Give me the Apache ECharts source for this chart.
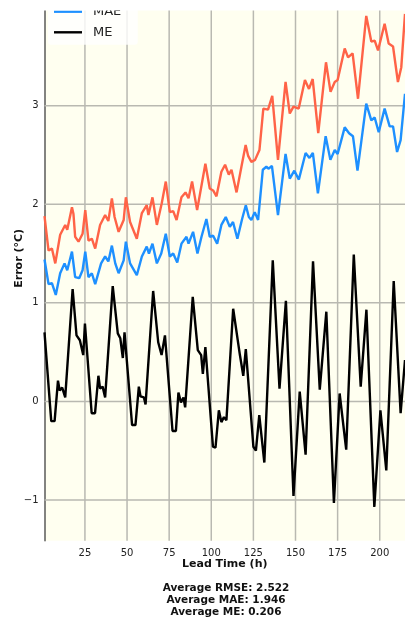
<!DOCTYPE html>
<html>
<head>
<meta charset="utf-8">
<script src="https://cdn.jsdelivr.net/npm/echarts@6/dist/echarts.min.js"></script>
<style>
  html, body { margin: 0; padding: 0; background: #fff; }
  #chart { width: 405px; height: 621px; }
</style>
</head>
<body>
<div id="chart"></div>
<script>
// lead time ticks and error ticks
const xTicks = [25, 50, 75, 100, 125, 150, 175, 200]
const yTicks = [-1, 0, 1, 2, 3]
const xRange = [1, 215]
const yRange = [-1.413, 4.315]

// RMSE
const rmseHours = [1, 3.4, 5.4, 7.4, 10.3, 13.3, 14.5, 17.3, 18.2, 19.2, 21.2, 23.6, 25.2, 27.1, 29.1, 31.1, 34, 37, 38.9, 41, 42.6, 45, 48, 49.3, 51.8, 55.8, 58.8, 61.7, 62.7, 65.1, 67.7, 70.6, 73, 75.4, 77.4, 79.4, 82.3, 84.7, 86.5, 88.6, 91.6, 94.2, 96.5, 99.1, 101.1, 103.1, 106, 108.2, 110.4, 112, 115, 117.9, 120.4, 121.9, 123.8, 126, 128.6, 130.9, 133.7, 136.2, 139.6, 144.1, 146.6, 148.8, 151.9, 155.6, 158, 160.2, 163.5, 168.1, 170.8, 173.3, 175, 179.2, 181.2, 183.9, 187.1, 192, 195, 197, 199, 202.9, 205.3, 207.9, 210.8, 212.8, 215]
const rmseValues = [1.88, 1.53, 1.55, 1.40, 1.69, 1.79, 1.74, 1.97, 1.90, 1.67, 1.62, 1.70, 1.94, 1.63, 1.65, 1.55, 1.79, 1.89, 1.83, 2.06, 1.87, 1.72, 1.84, 2.07, 1.82, 1.65, 1.91, 1.99, 1.89, 2.07, 1.79, 2.01, 2.23, 1.92, 1.93, 1.84, 2.07, 2.12, 2.06, 2.23, 1.94, 2.19, 2.41, 2.16, 2.14, 2.08, 2.33, 2.40, 2.30, 2.35, 2.12, 2.38, 2.60, 2.49, 2.43, 2.45, 2.55, 2.97, 2.96, 3.10, 2.45, 3.24, 2.92, 2.99, 2.97, 3.26, 3.17, 3.27, 2.72, 3.44, 3.14, 3.24, 3.26, 3.58, 3.49, 3.53, 3.07, 3.91, 3.65, 3.66, 3.56, 3.83, 3.63, 3.60, 3.24, 3.39, 3.93]

// MAE
const maeHours = [1, 3.4, 5.4, 7.7, 10.3, 12.9, 14.5, 17.3, 19.2, 21.6, 23.6, 25.2, 27.1, 29.1, 31.1, 34.6, 37, 38.9, 41, 43, 45, 48, 49.3, 51.8, 55.8, 58.8, 61.7, 63, 65.1, 67.7, 70.3, 73, 75.4, 77.4, 79.8, 82.3, 85.3, 86.5, 89.2, 91.8, 94.2, 97.1, 99.1, 101.1, 103.5, 106, 108.6, 111, 112.9, 115.5, 118.3, 120.5, 122.3, 123.8, 125.8, 127.8, 130.6, 132.7, 134.1, 136, 139.6, 144.1, 146.6, 149.3, 152, 156, 158.3, 160.3, 163.3, 167.9, 170.7, 173.3, 175, 179.2, 181.8, 184.1, 186.8, 192, 195, 197, 199.4, 202.9, 205.9, 207.9, 210.3, 212.4, 215]
const maeValues = [1.44, 1.19, 1.20, 1.08, 1.30, 1.40, 1.33, 1.52, 1.26, 1.25, 1.33, 1.52, 1.26, 1.30, 1.19, 1.40, 1.47, 1.42, 1.58, 1.40, 1.30, 1.43, 1.62, 1.40, 1.28, 1.47, 1.57, 1.50, 1.60, 1.40, 1.50, 1.70, 1.47, 1.50, 1.41, 1.60, 1.67, 1.60, 1.72, 1.50, 1.67, 1.85, 1.67, 1.68, 1.60, 1.79, 1.87, 1.77, 1.82, 1.65, 1.85, 1.99, 1.87, 1.84, 1.92, 1.84, 2.35, 2.38, 2.36, 2.39, 1.89, 2.51, 2.26, 2.34, 2.25, 2.52, 2.47, 2.52, 2.11, 2.69, 2.45, 2.55, 2.51, 2.78, 2.72, 2.69, 2.34, 3.02, 2.85, 2.88, 2.73, 2.97, 2.79, 2.79, 2.53, 2.65, 3.12]

// ME
const meHours = [1, 5, 7, 9, 10, 11.5, 13.3, 17.7, 20, 22, 24, 25, 29, 31, 33, 34, 35.5, 37, 41.5, 44.5, 46, 47.5, 48.5, 53, 55, 57, 58, 60, 61, 65.5, 68.5, 70.5, 72.5, 77, 79, 80.5, 82, 83.5, 84.5, 89, 92, 94, 95, 96.5, 101, 102.5, 104.5, 106, 107.5, 109, 113, 117, 119, 120.5, 125, 126.5, 128.5, 131.5, 136.5, 140.5, 144.3, 148.8, 152.5, 156, 160.4, 164.4, 168.3, 172.8, 176.2, 180.1, 184.6, 188.7, 192.1, 196.8, 200.4, 203.9, 208.3, 212.4, 215]
const meValues = [0.70, -0.20, -0.20, 0.21, 0.11, 0.14, 0.04, 1.14, 0.67, 0.62, 0.47, 0.79, -0.12, -0.12, 0.26, 0.13, 0.15, 0.04, 1.17, 0.69, 0.64, 0.44, 0.70, -0.24, -0.24, 0.15, 0.05, 0.04, -0.03, 1.12, 0.60, 0.47, 0.67, -0.30, -0.30, 0.09, -0.01, 0.04, -0.06, 1.06, 0.52, 0.47, 0.28, 0.55, -0.46, -0.47, -0.09, -0.21, -0.16, -0.19, 0.94, 0.47, 0.26, 0.53, -0.46, -0.50, -0.14, -0.62, 1.43, 0.13, 1.02, -0.96, 0.10, -0.54, 1.42, 0.12, 0.91, -1.03, 0.08, -0.49, 1.49, 0.15, 0.93, -1.07, -0.09, -0.70, 1.22, -0.12, 0.42]

const averages = ['Average RMSE: 2.522', 'Average MAE: 1.946', 'Average ME: 0.206']

const font = 'DejaVu Sans'
const gridLine = { color: '#b9b9b1', width: 1.5 }

function pairs(hours, values) {
  return hours.map((h, i) => [h, values[i]])
}

// grid lines at the tick values, broken apart with '-'
const gridData = xTicks.flatMap(t => [[t, yRange[0]], [t, yRange[1]], [t, '-']])
  .concat(yTicks.flatMap(v => [[xRange[0], v], [xRange[1], v], ['-', v]]))

const chart = echarts.init(document.getElementById('chart'))

const option = {
  backgroundColor: '#fff',
  animation: false,
  textStyle: { fontFamily: font },
  grid: {
    left: 44.5,
    right: 0,
    top: -24,
    bottom: 80.3,
    containLabel: false,
    outerBoundsMode: 'none',
    show: true,
    backgroundColor: '#FFFFF0',
    borderWidth: 0
  },
  legend: {
    orient: 'vertical',
    left: 48,
    top: -21.4,
    z: 6,
    padding: [5, 8, 5, 6],
    icon: 'rect',
    itemWidth: 28,
    itemHeight: 2.4,
    itemGap: 5.6,
    backgroundColor: 'rgba(255,255,255,0.8)',
    borderRadius: 3,
    textStyle: { fontFamily: font, fontSize: 13, lineHeight: 15, color: '#222', padding: [0, 0, 0, 6] },
    data: ['RMSE', 'MAE', 'ME']
  },
  xAxis: {
    type: 'value',
    min: xRange[0],
    max: xRange[1],
    name: 'Lead Time (h)',
    nameLocation: 'middle',
    nameGap: 18,
    nameMoveOverlap: false,
    nameTextStyle: { fontFamily: font, fontSize: 11, fontWeight: 'bold', color: '#111' },
    axisLine: { show: false },
    axisTick: { show: false },
    splitLine: { show: false },
    axisLabel: {
      customValues: xTicks,
      margin: 8,
      fontFamily: font,
      fontSize: 10,
      color: '#222'
    }
  },
  yAxis: {
    type: 'value',
    min: yRange[0],
    max: yRange[1],
    name: 'Error (°C)',
    nameLocation: 'middle',
    nameRotate: 90,
    nameGap: 20,
    nameMoveOverlap: false,
    nameTextStyle: { fontFamily: font, fontSize: 11, fontWeight: 'bold', color: '#111' },
    axisLine: { show: true, lineStyle: { color: '#5a5a5a', width: 1.5 } },
    axisTick: { show: false },
    splitLine: { show: false },
    axisLabel: {
      customValues: yTicks,
      margin: 6,
      fontFamily: font,
      fontSize: 10,
      color: '#222',
      formatter: v => String(v).replace('-', '\u2212')
    }
  },
  series: [
    {
      name: 'grid',
      type: 'line',
      symbol: 'none',
      silent: true,
      connectNulls: false,
      z: 1,
      lineStyle: gridLine,
      data: gridData
    },
    {
      name: 'RMSE',
      type: 'line',
      symbol: 'none',
      z: 3,
      lineStyle: { color: '#FF6347', width: 2.4 },
      itemStyle: { color: '#FF6347' },
      data: pairs(rmseHours, rmseValues)
    },
    {
      name: 'MAE',
      type: 'line',
      symbol: 'none',
      z: 3,
      lineStyle: { color: '#1E90FF', width: 2.4 },
      itemStyle: { color: '#1E90FF' },
      data: pairs(maeHours, maeValues)
    },
    {
      name: 'ME',
      type: 'line',
      symbol: 'none',
      z: 3,
      lineStyle: { color: '#000', width: 2.4 },
      itemStyle: { color: '#000' },
      data: pairs(meHours, meValues)
    }
  ],
  graphic: [
    {
      type: 'rect',
      z: 100,
      shape: { x: 0, y: 0, width: 405, height: 10.5 },
      style: { fill: '#fff' }
    },
    {
      type: 'text',
      z: 100,
      x: 226,
      y: 582,
      style: {
        text: averages.join('\n'),
        fontFamily: font,
        fontSize: 10.5,
        fontWeight: 'bold',
        lineHeight: 12.2,
        fill: '#111',
        align: 'center',
        verticalAlign: 'top'
      }
    }
  ]
}

chart.setOption(option)
</script>
</body>
</html>
